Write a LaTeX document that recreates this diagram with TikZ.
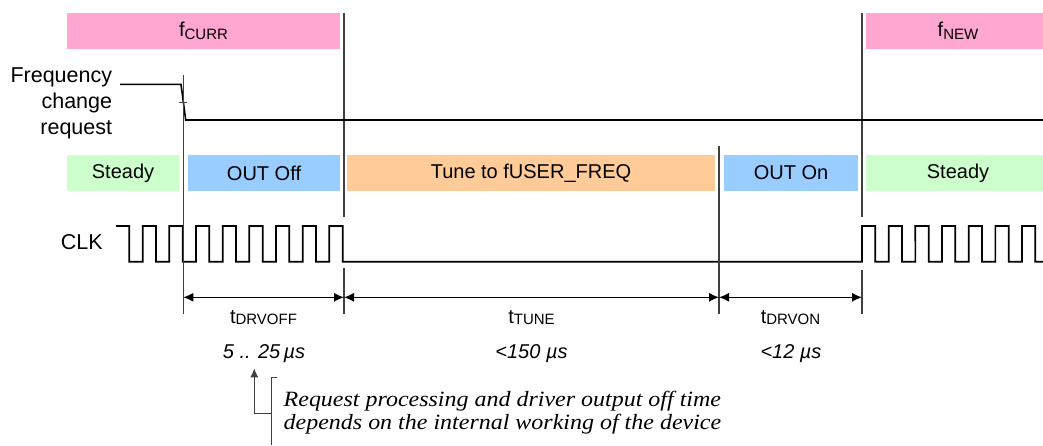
\documentclass[tikz,border=0pt]{standalone}
\usepackage{fontspec}
\setmainfont{Liberation Sans}
\newfontfamily\notefont[FakeStretch=1.1]{Liberation Serif}
\usetikzlibrary{arrows.meta}
\definecolor{pinkc}{HTML}{FFA6D1}
\definecolor{greenc}{HTML}{CCFFCC}
\definecolor{bluec}{HTML}{99CCFF}
\definecolor{orangec}{HTML}{FFCC99}
\definecolor{vline}{HTML}{404040}
\newcommand{\mysub}[2][-1.5pt]{\raisebox{#1}{\fontsize{7.5}{8}\selectfont #2}}
\begin{document}
\begin{tikzpicture}[x=0.5pt,y=-0.5pt,
  phase/.style={inner sep=0pt, minimum height=18pt, font=\fontsize{10}{11}\selectfont},
  guide/.style={draw=vline, line width=0.65pt},
  sig/.style={draw=black, line width=0.85pt},
  dim/.style={draw=black, line width=0.6pt, {Latex[length=5pt,width=4.5pt]}-{Latex[length=5pt,width=4.5pt]}},
  lbl/.style={font=\fontsize{10}{11}\selectfont, inner sep=0pt, anchor=base},
  val/.style={font=\fontsize{10}{11}\selectfont\itshape, inner sep=0pt, anchor=base},
  bigl/.style={font=\fontsize{10.75}{13}\selectfont, inner sep=0pt},
]
\useasboundingbox (0,0) rectangle (1043,445);

% phase boxes
\node[phase, fill=pinkc, minimum width=136.5pt] (fcurr) at (203.5,31) {f\mysub{CURR}};
\node[phase, fill=pinkc, minimum width=92pt] (fnew) at (958,31) {f\mysub{NEW}};
\node[phase, fill=greenc, minimum width=56pt] (st1) at (123,173) {Steady};
\node[phase, fill=bluec, minimum width=76pt] (off) at (264,173) {OUT Off};
\node[phase, fill=orangec, minimum width=184pt] (tune) at (531,173) {Tune to fUSER\_FREQ};
\node[phase, fill=bluec, minimum width=67pt] (on) at (791,173) {OUT On};
\node[phase, fill=greenc, minimum width=92pt] (st2) at (958,173) {Steady};

% signal labels
\node[bigl, align=right, anchor=east] (req) at (112.5,103) {Frequency\\change\\request};
\node[bigl, anchor=east] (clk) at (103,242.5) {CLK};

% guide lines
\coordinate (g1t) at (183.3,75);   \coordinate (g1b) at (183.3,314);
\coordinate (g2t) at (344,13);     \coordinate (g2m) at (344,216.5);
\coordinate (g2n) at (344,268);    \coordinate (g2b) at (344,314);
\coordinate (g3t) at (719,146);    \coordinate (g3b) at (719,314);
\coordinate (g4t) at (862,13);     \coordinate (g4m) at (862,216.5);
\coordinate (g4n) at (862,270);    \coordinate (g4b) at (862,314);
\draw[guide] (g2t) -- (g2m) (g2n) -- (g2b);
\draw[guide] (g4t) -- (g4m) (g4n) -- (g4b);

% frequency change request signal
\coordinate (rq0) at (120,84.3);
\coordinate (rq1) at (181,84.3);
\coordinate (rq2) at (185.7,120);
\coordinate (rq3) at (1043,120);
\draw[sig, line width=0.8pt] (rq0) -- (rq1) -- (rq2) -- (rq3);

% clock
\draw[sig, line join=miter] (116,226)
  \foreach \k in {0,...,7} {
    -- ({129.33+26.667*\k},226) -- ({129.33+26.667*\k},261.7)
    -- ({142.67+26.667*\k},261.7) -- ({142.67+26.667*\k},226) }
  -- (342.67,226) -- (342.67,261.7) -- (862,261.7)
  \foreach \k in {0,...,6} {
    -- ({862+26.667*\k},226) -- ({875.33+26.667*\k},226)
    -- ({875.33+26.667*\k},261.7) -- ({888.67+26.667*\k},261.7) };

\draw[guide] (g1t) -- (g1b);
\draw[guide] (g3t) -- (g3b);
\draw[guide, line width=0.5pt] (179,102) -- (187.3,102);

% dimension arrows
\coordinate (d1) at (183.3,297.3);
\coordinate (d2) at (344,297.3);
\coordinate (d3) at (719,297.3);
\coordinate (d4) at (862,297.3);
\draw[dim] (d1) -- (d2);
\draw[dim] (d2) -- (d3);
\draw[dim] (d3) -- (d4);

\node[lbl] (tdrvoff) at (263.5,323.5) {t\mysub[-0.6pt]{DRVOFF}};
\node[val] (v1) at (264,358) {5 .. 25\,µs};
\node[lbl] (ttune) at (531.5,323.5) {t\mysub[-0.6pt]{TUNE}};
\node[val] (v2) at (531.5,358) {<150 µs};
\node[lbl] (tdrvon) at (790.5,323.5) {t\mysub[-0.6pt]{DRVON}};
\node[val] (v3) at (791,358) {<12 µs};

% annotation
\node[font=\notefont\itshape\fontsize{10.9}{11.5}\selectfont, align=left, anchor=west, inner sep=0pt] (note) at (283.3,413) {Request processing and driver output off time\\depends on the internal working of the device};
\coordinate (b0) at (277.3,377.3);
\coordinate (b1) at (271.7,377.3);
\coordinate (b2) at (271.7,445);
\draw[draw=vline, line width=0.55pt] (b0) -- (b1) -- (b2);
\coordinate (a0) at (271.7,413.3);
\coordinate (a1) at (254.3,413.3);
\coordinate (a2) at (254.3,368.3);
\draw[draw=vline, line width=0.55pt, -{Latex[length=4.5pt,width=4pt]}] (a0) -- (a1) -- (a2);
\end{tikzpicture}
\end{document}
